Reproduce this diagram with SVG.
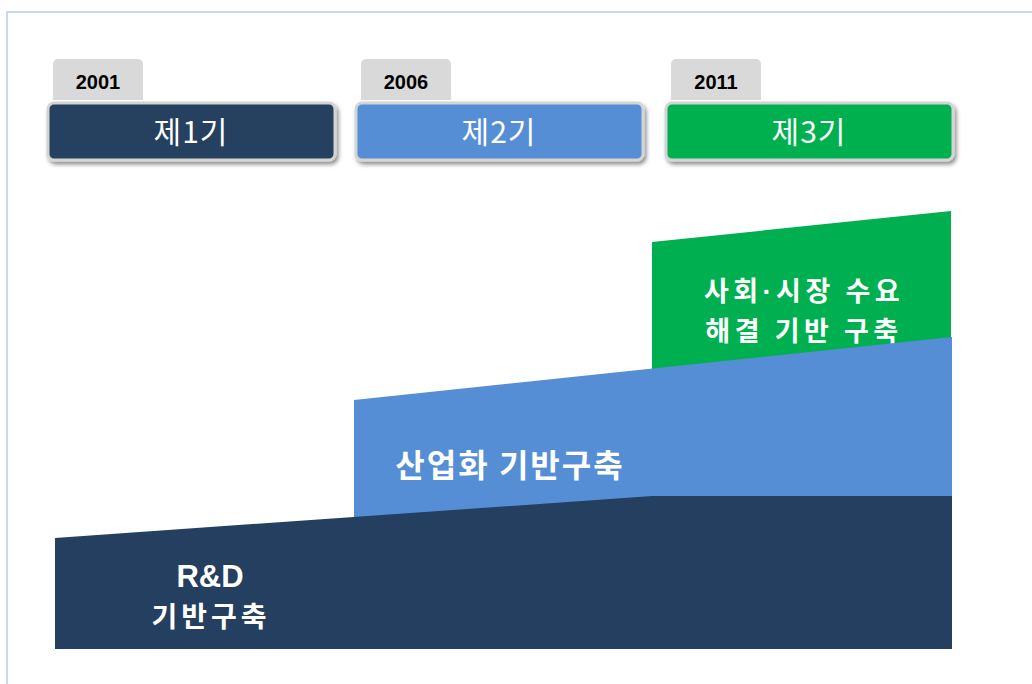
<svg xmlns="http://www.w3.org/2000/svg" width="1032" height="684" viewBox="0 0 1032 684">
<style>
.tab{fill:#D9D9D9}
.tabt{font-family:"Liberation Sans","Noto Sans",sans-serif;font-weight:bold;font-size:20px;fill:#000;text-anchor:middle}
.box{stroke:#D4D4D4;stroke-width:3}
.boxt{font-family:"Noto Sans CJK KR","Noto Sans",sans-serif;font-size:30px;fill:#fff;text-anchor:middle;letter-spacing:1px}
.lbl{font-family:"Noto Sans CJK KR","Noto Sans",sans-serif;font-weight:bold;font-size:32px;fill:#fff;text-anchor:middle;letter-spacing:2px}
.lbl1{font-family:"Noto Sans CJK KR","Noto Sans",sans-serif;font-weight:bold;font-size:28px;fill:#fff;text-anchor:middle;letter-spacing:4px}
.lbl3{font-family:"Noto Sans CJK KR","Noto Sans",sans-serif;font-weight:bold;font-size:27px;fill:#fff;text-anchor:middle;letter-spacing:4.5px}
.lat{font-family:"Liberation Sans",sans-serif;font-weight:bold;font-size:31px;fill:#fff;text-anchor:middle}
.dot{font-family:"Liberation Sans",sans-serif}
</style>
<defs>
<filter id="sh" x="-10%" y="-20%" width="120%" height="160%">
<feGaussianBlur in="SourceAlpha" stdDeviation="2"/>
<feOffset dx="2" dy="3" result="o"/>
<feComponentTransfer><feFuncA type="linear" slope="0.45"/></feComponentTransfer>
<feMerge><feMergeNode/><feMergeNode in="SourceGraphic"/></feMerge>
</filter>
</defs>
<rect width="1032" height="684" fill="#fff"/>
<rect x="7" y="12" width="1040" height="700" fill="none" stroke="#C6D9F1" stroke-width="2"/>

<g id="phase1">
<path class="tab" d="M53,100 V64 a5,5 0 0 1 5,-5 H138 a5,5 0 0 1 5,5 V100 Z"/>
<text class="tabt" x="98" y="89">2001</text>
<rect class="box" x="48" y="103" width="287" height="57" rx="6" fill="#253F60" filter="url(#sh)"/>
<text class="boxt" x="191" y="143">제1기</text>
</g>
<g id="phase2">
<path class="tab" d="M361,100 V64 a5,5 0 0 1 5,-5 H446 a5,5 0 0 1 5,5 V100 Z"/>
<text class="tabt" x="406" y="89">2006</text>
<rect class="box" x="356" y="103" width="287" height="57" rx="6" fill="#558ED5" filter="url(#sh)"/>
<text class="boxt" x="499" y="143">제2기</text>
</g>
<g id="phase3">
<path class="tab" d="M671,100 V64 a5,5 0 0 1 5,-5 H756 a5,5 0 0 1 5,5 V100 Z"/>
<text class="tabt" x="716" y="89">2011</text>
<rect class="box" x="666" y="103" width="287" height="57" rx="6" fill="#00B050" filter="url(#sh)"/>
<text class="boxt" x="809" y="143">제3기</text>
</g>

<g id="stage3">
<polygon points="652,242 951,211 951,420 652,420" fill="#00B050"/>
<text class="lbl3" x="804" y="301">사회<tspan class="dot">·</tspan>시장 수요</text>
<text class="lbl3" x="804" y="341">해결 기반 구축</text>
</g>
<g id="stage2">
<polygon points="354,400 952,337 952,520 354,520" fill="#558ED5"/>
<text class="lbl" x="510" y="477">산업화 기반구축</text>
</g>
<g id="stage1">
<polygon points="55,538 652,496 952,496 952,649 55,649" fill="#253F60"/>
<text class="lat" x="210" y="587">R&amp;D</text>
<text class="lbl1" x="211" y="627">기반구축</text>
</g>
<g id="connectors"/>
</svg>
